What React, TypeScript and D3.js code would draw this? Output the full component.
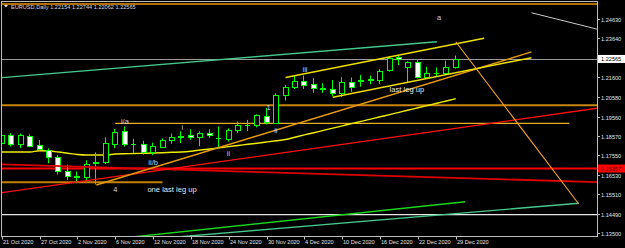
import React from "react";
import * as d3 from "d3";

const W = 625;
const H = 248;

// ---- categories (trading days) ----
const barDates = [
  "2020-10-21","2020-10-22","2020-10-23","2020-10-26","2020-10-27","2020-10-28","2020-10-29","2020-10-30",
  "2020-11-02","2020-11-03","2020-11-04","2020-11-05","2020-11-06","2020-11-09","2020-11-10","2020-11-11",
  "2020-11-12","2020-11-13","2020-11-16","2020-11-17","2020-11-18","2020-11-19","2020-11-20","2020-11-23",
  "2020-11-24","2020-11-25","2020-11-26","2020-11-27","2020-11-30","2020-12-01","2020-12-02","2020-12-03",
  "2020-12-04","2020-12-07","2020-12-08","2020-12-09","2020-12-10","2020-12-11","2020-12-14","2020-12-15",
  "2020-12-16","2020-12-17","2020-12-18","2020-12-21","2020-12-22","2020-12-23","2020-12-24","2020-12-28",
  "2020-12-29",
];

// ---- series values ----
const opens = [1.1820,1.1858,1.1813,1.1856,1.1806,1.1782,1.1744,1.1672,1.1646,1.1641,1.1712,1.1718,1.1815,1.1880,1.1813,1.1812,1.1774,1.1800,1.1833,1.1850,1.1858,1.1850,1.1869,1.1847,1.1838,1.1887,1.1910,1.1910,1.1960,1.1925,1.2068,1.2112,1.2144,1.2125,1.2106,1.2100,1.2080,1.2135,1.2140,1.2145,1.2148,1.2197,1.2265,1.2213,1.2240,1.2162,1.2182,1.2183,1.22154];
const highs = [1.1880,1.1870,1.1868,1.1864,1.1834,1.1791,1.1756,1.1705,1.1670,1.1729,1.1770,1.1848,1.1892,1.1905,1.1840,1.1830,1.1820,1.1843,1.1868,1.1880,1.1890,1.1880,1.1890,1.1905,1.1895,1.1930,1.1939,1.1968,1.2002,1.2077,1.2122,1.2172,1.2170,1.2158,1.2130,1.2147,1.2162,1.2160,1.2173,1.2170,1.2205,1.2272,1.2274,1.2245,1.2250,1.2215,1.2212,1.2248,1.22744];
const lows = [1.1806,1.1800,1.1792,1.1797,1.1779,1.1713,1.1655,1.1626,1.1610,1.1620,1.1603,1.1710,1.1792,1.1800,1.1768,1.1758,1.1755,1.1792,1.1815,1.1818,1.1835,1.1802,1.1845,1.1790,1.1826,1.1870,1.1880,1.1900,1.1915,1.1923,1.2040,1.2100,1.2100,1.2080,1.2080,1.2062,1.2060,1.2085,1.2112,1.2125,1.2125,1.2190,1.2225,1.2135,1.2155,1.2152,1.2165,1.2172,1.22062];
const closes = [1.1861,1.1814,1.1860,1.1804,1.1787,1.1744,1.1674,1.1645,1.1641,1.1710,1.1720,1.1820,1.1874,1.1815,1.1815,1.1774,1.1803,1.1835,1.1851,1.1857,1.1850,1.1872,1.1858,1.1843,1.1888,1.1912,1.1912,1.1963,1.1927,1.2070,1.2113,1.2144,1.2119,1.2107,1.2102,1.2080,1.2135,1.2112,1.2145,1.2150,1.2196,1.2264,1.2255,1.2240,1.2162,1.2183,1.2185,1.2214,1.22565];
const maValues = [1.17719,1.17719,1.17719,1.17719,1.17786,1.17771,1.17719,1.17651,1.17588,1.17562,1.17562,1.17562,1.17614,1.17630,1.17640,1.17651,1.17666,1.17682,1.17703,1.17719,1.17760,1.17823,1.17875,1.17937,1.18000,1.18057,1.18120,1.18177,1.18239,1.18302,1.18370,1.18489,1.18609,1.18724,1.18844,1.18963,1.19078,1.19198,1.19312,1.19432,1.19552,1.19666,1.19786,1.19906,1.20021,1.20140,1.20260,1.20375,1.20495];

// ---- tick labels ----
const priceTicks = ["1.24630","1.23640","1.21600","1.20580","1.19560","1.18570","1.17550","1.16530","1.15510","1.14490","1.13500"];
const dateTickDays = ["2020-10-21","2020-10-27","2020-11-02","2020-11-06","2020-11-12","2020-11-18","2020-11-24","2020-11-30","2020-12-04","2020-12-10","2020-12-16","2020-12-22","2020-12-29"];
const dateTickLabels = ["21 Oct 2020","27 Oct 2020","2 Nov 2020","6 Nov 2020","12 Nov 2020","18 Nov 2020","24 Nov 2020","30 Nov 2020","4 Dec 2020","10 Dec 2020","16 Dec 2020","22 Dec 2020","29 Dec 2020"];

const title = "EURUSD,Daily 1.22154 1.22744 1.22062 1.22565";
const bidPrice = 1.22565;
const redLevel = 1.16857;

// ---- drawn objects (bar index, price) ----
const hLevels = [
  { id: "top", price: 1.2543 },
  { id: "mid", price: 1.2015 },
  { id: "white", price: 1.1446 },
  { id: "red", price: redLevel },
];
const segLevels = [
  { id: "ia", from: 12, to: 60, price: 1.1921 },
  { id: "low", from: 0, to: 17, price: 1.1614 },
];
const trendLines = [
  { id: "tealUp", a: [-1, 1.2155], b: [46, 1.2346] },
  { id: "tealLo", a: [17, 1.1323], b: [61, 1.1505] },
  { id: "lime", a: [13, 1.1325], b: [49, 1.1513] },
  { id: "redDown", a: [0, 1.1707], b: [63, 1.1615] },
  { id: "redUp", a: [0, 1.1560], b: [63, 1.2000] },
  { id: "orangeUp", a: [10, 1.1600], b: [56, 1.2293] },
  { id: "chanUp", a: [30, 1.2160], b: [51, 1.2364] },
  { id: "chanLo", a: [35, 1.2057], b: [56, 1.2263] },
  { id: "orangeDown", a: [48, 1.2346], b: [61, 1.1501] },
  { id: "grayTop", a: [56, 1.2497], b: [63, 1.2411] },
];
const waveLabels = [
  { text: "a", idx: 46, price: 1.2458 },
  { text: "i/a", idx: 12.6, price: 1.1918 },
  { text: "i", idx: 19, price: 1.1886 },
  { text: "ii/b", idx: 15.5, price: 1.1704 },
  { text: "ii", idx: 23.8, price: 1.1751 },
  { text: "1", idx: 28, price: 1.1991 },
  { text: "ii", idx: 28.8, price: 1.1871 },
  { text: "iii", idx: 31.8, price: 1.2189 },
  { text: "4", idx: 11.8, price: 1.1564 },
];
const noteLabels = [
  { text: "one last leg up", idx: 15.4, price: 1.1564 },
  { text: "last leg up", idx: 41, price: 1.2084 },
];

// ---- styles ----
const lineStyle: Record<string, { color: string; width: number }> = {
  top: { color: "#EC9400", width: 1.6 },
  mid: { color: "#C8860E", width: 2 },
  white: { color: "#E8E8E8", width: 1.2 },
  red: { color: "#FF0000", width: 2 },
  ia: { color: "#E8B020", width: 1.4 },
  low: { color: "#C88000", width: 2 },
  tealUp: { color: "#45C98C", width: 1.4 },
  tealLo: { color: "#45C98C", width: 1.4 },
  lime: { color: "#1CD61C", width: 1.4 },
  redDown: { color: "#E00000", width: 1.8 },
  redUp: { color: "#FF1010", width: 1.4 },
  orangeUp: { color: "#E89A10", width: 1.4 },
  chanUp: { color: "#EEE000", width: 1.4 },
  chanLo: { color: "#EEE000", width: 1.4 },
  orangeDown: { color: "#F5A623", width: 1.1 },
  grayTop: { color: "#C8C8C8", width: 1 },
};

const FONT = "'Liberation Sans', Arial, sans-serif";
const PL = 1.5, PT = 1.5, PR = 597.5, PB = 236.5;

export default function App() {
  const x = d3.scaleLinear().domain([0, 48]).range([1.7, 455.8]);
  const y = d3.scaleLinear().domain([1.135, 1.2463]).range([233, 19.3]);
  const idxOf = (d: string) => barDates.indexOf(d);

  const maLine = d3
    .line<number>()
    .x((_, i) => x(i))
    .y((v) => y(v))
    .curve(d3.curveMonotoneX)(maValues) as string;

  const candles = barDates.map((d, i) => {
    const r = Math.round(x(i));
    const yo = y(opens[i]);
    const yc = y(closes[i]);
    const yh = y(highs[i]);
    const yl = y(lows[i]);
    const bull = closes[i] >= opens[i];
    const top = Math.round(Math.min(yo, yc));
    const bot = Math.round(Math.max(yo, yc));
    const doji = bot - top < 1;
    return (
      <g key={d}>
        <line x1={r - 0.5} x2={r - 0.5} y1={yh} y2={yl} stroke="#00FF00" strokeWidth={1} />
        {doji ? (
          <line x1={r - 3} x2={r + 2} y1={top + 0.5} y2={top + 0.5} stroke="#00FF00" strokeWidth={1} />
        ) : (
          <rect x={r - 2.5} y={top + 0.5} width={5} height={bot - top} fill={bull ? "#000" : "#fff"} stroke="#00FF00" strokeWidth={1} />
        )}
      </g>
    );
  });

  return (
    <svg width={W} height={H} style={{ position: "fixed", left: 0, top: 0, background: "#000" }}>
      <defs>
        <clipPath id="plot">
          <rect x={PL + 0.5} y={PT + 0.5} width={PR - PL - 1} height={PB - PT - 1} />
        </clipPath>
      </defs>
      <rect x={0} y={0} width={W} height={H} fill="#000" />
      <g clipPath="url(#plot)">
        {/* bid line */}
        <line x1={PL} x2={PR} y1={Math.round(y(bidPrice)) + 0.5} y2={Math.round(y(bidPrice)) + 0.5} stroke="#9A9A9A" strokeWidth={1} />
        {hLevels.map((h) => (
          <line key={h.id} x1={PL} x2={PR} y1={y(h.price)} y2={y(h.price)} stroke={lineStyle[h.id].color} strokeWidth={lineStyle[h.id].width} />
        ))}
        {segLevels.map((h) => (
          <line key={h.id} x1={h.from === 0 ? PL : x(h.from)} x2={x(h.to)} y1={y(h.price)} y2={y(h.price)} stroke={lineStyle[h.id].color} strokeWidth={lineStyle[h.id].width} />
        ))}
        <path d={maLine} fill="none" stroke="#F0EC00" strokeWidth={1.4} />
        {candles}
        {trendLines.map((t) => (
          <line key={t.id} x1={x(t.a[0])} y1={y(t.a[1])} x2={x(t.b[0])} y2={y(t.b[1])} stroke={lineStyle[t.id].color} strokeWidth={lineStyle[t.id].width} />
        ))}
        {waveLabels.map((l, k) => (
          <text key={k} x={x(l.idx)} y={y(l.price)} fontFamily={FONT} fontSize={7.5} fill="#C8D0E8">{l.text}</text>
        ))}
        {noteLabels.map((l, k) => (
          <text key={k} x={x(l.idx)} y={y(l.price)} fontFamily={FONT} fontSize={7.6} fill="#E6E6E6">{l.text}</text>
        ))}
      </g>

      {/* frame */}
      <rect x={PL} y={PT} width={PR - PL} height={PB - PT} fill="none" stroke="#BDBDBD" strokeWidth={1} />

      {/* title */}
      <path d="M4,5 L8,5 L6,7.5 Z" fill="#E0E0E0" />
      <text x={11} y={9} fontFamily={FONT} fontSize={5.6} fill="#D0D4E0">{title}</text>

      {/* price axis */}
      {priceTicks.map((t) => {
        const yy = Math.round(y(+t)) + 0.5;
        return (
          <g key={t}>
            <line x1={PR} x2={PR + 2.5} y1={yy} y2={yy} stroke="#BDBDBD" strokeWidth={1} />
            <text x={601} y={yy + 2} fontFamily={FONT} fontSize={5.6} fill="#E0E0E0">{t}</text>
          </g>
        );
      })}
      {/* bid label */}
      <rect x={598} y={y(bidPrice) - 4} width={27} height={8} fill="#FFFFFF" />
      <text x={601} y={y(bidPrice) + 2} fontFamily={FONT} fontSize={5.6} fill="#000">{bidPrice.toFixed(5)}</text>
      {/* red level label */}
      <rect x={598} y={y(redLevel) - 4} width={27} height={8} fill="#FF0000" />
      <text x={601} y={y(redLevel) + 2} fontFamily={FONT} fontSize={5.6} fill="#5A0000">{redLevel.toFixed(5)}</text>

      {/* time axis */}
      {dateTickDays.map((d, k) => {
        const xx = Math.round(x(idxOf(d))) + 0.5;
        return (
          <g key={d}>
            <line x1={xx} x2={xx} y1={PB} y2={PB + 3} stroke="#BDBDBD" strokeWidth={1} />
            <text x={xx + 0.5} y={243.5} fontFamily={FONT} fontSize={5.6} fill="#E0E0E0">{dateTickLabels[k]}</text>
          </g>
        );
      })}
    </svg>
  );
}
